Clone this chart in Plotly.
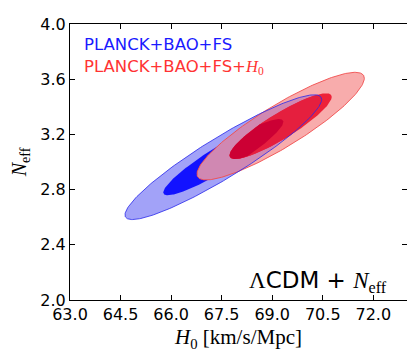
import numpy as np
import plotly.graph_objects as go

# ---- data ----
datasets = ["PLANCK+BAO+FS", "PLANCK+BAO+FS+H0"]
center_h0 = [67.55, 69.25]
center_neff = [3.035, 3.26]
sigma_h0 = [1.175, 1.00]
sigma_neff = [0.182, 0.157]
corr = [0.925, 0.89]
dchi2_levels = [2.30, 6.17]  # 68% and 95% for 2 parameters

x_ticks = [63.0, 64.5, 66.0, 67.5, 69.0, 70.5, 72.0]
y_ticks = [2.0, 2.4, 2.8, 3.2, 3.6, 4.0]
x_range = [63.0, 73.0]
y_range = [2.0, 4.0]


def ellipse(i, k, n=240):
    t = np.linspace(0, 2 * np.pi, n, endpoint=False)
    sx, sy, r = sigma_h0[i], sigma_neff[i], corr[i]
    x = center_h0[i] + np.sqrt(k) * sx * np.cos(t)
    y = center_neff[i] + np.sqrt(k) * sy * (r * np.cos(t) + np.sqrt(1 - r * r) * np.sin(t))
    return list(zip(x, y))


def clip(subject, clipper):
    def inside(p, a, b):
        return (b[0] - a[0]) * (p[1] - a[1]) - (b[1] - a[1]) * (p[0] - a[0]) >= 0

    def inter(s, e, a, b):
        x1, y1 = s; x2, y2 = e; x3, y3 = a; x4, y4 = b
        den = (x1 - x2) * (y3 - y4) - (y1 - y2) * (x3 - x4)
        px = ((x1 * y2 - y1 * x2) * (x3 - x4) - (x1 - x2) * (x3 * y4 - y3 * x4)) / den
        py = ((x1 * y2 - y1 * x2) * (y3 - y4) - (y1 - y2) * (x3 * y4 - y3 * x4)) / den
        return (px, py)

    out = list(subject)
    for j in range(len(clipper)):
        a, b = clipper[j - 1], clipper[j]
        inp, out = out, []
        if not inp:
            break
        s = inp[-1]
        for e in inp:
            if inside(e, a, b):
                if not inside(s, a, b):
                    out.append(inter(s, e, a, b))
                out.append(e)
            elif inside(s, a, b):
                out.append(inter(s, e, a, b))
            s = e
    return out


b_in, b_out = ellipse(0, dchi2_levels[0]), ellipse(0, dchi2_levels[1])
r_in, r_out = ellipse(1, dchi2_levels[0]), ellipse(1, dchi2_levels[1])

fig = go.Figure()


def poly(pts, fill, line=None, width=0):
    if not pts:
        return
    xs = [p[0] for p in pts] + [pts[0][0]]
    ys = [p[1] for p in pts] + [pts[0][1]]
    fig.add_trace(go.Scatter(x=xs, y=ys, mode="lines", fill="toself" if fill else "none",
                             fillcolor=fill, line=dict(color=line or "rgba(0,0,0,0)", width=width),
                             hoverinfo="skip", showlegend=False))


poly(b_out, "#a2a2f8")
poly(b_in, "#1212ff")
poly(r_out, "#f8acac")
poly(clip(r_out, b_out), "#d088b2")
poly(r_in, "#ee2238")
poly(clip(r_in, b_out), "#e51f3e")
poly(clip(r_in, b_in), "#cc0034")
# outlines
poly(r_out, None, "rgba(240,70,70,0.85)", 1)
poly(b_out, None, "rgba(40,40,235,0.8)", 1)

sans = "DejaVu Sans"
serif = "Liberation Serif"

fig.add_annotation(x=0.037, y=0.925, xref="paper", yref="paper", xanchor="left", yanchor="middle",
                   text=datasets[0], showarrow=False, font=dict(family=sans, size=16.5, color="#1a1aff"))
fig.add_annotation(x=0.037, y=0.843, xref="paper", yref="paper", xanchor="left", yanchor="middle",
                   text="PLANCK+BAO+FS+<span style='font-family:Liberation Serif'><i>H</i><sub>0</sub></span>",
                   showarrow=False, font=dict(family=sans, size=16.5, color="#ff3333"))
fig.add_annotation(x=0.946, y=0.066, xref="paper", yref="paper", xanchor="right", yanchor="middle",
                   text="<span style='font-family:Liberation Serif'>Λ</span>CDM + "
                        "<span style='font-family:Liberation Serif'><i>N</i><sub>eff</sub></span>",
                   showarrow=False, font=dict(family=sans, size=23, color="black"))

axis_common = dict(showline=True, linecolor="black", linewidth=1, mirror="ticks", ticks="inside",
                   ticklen=5, tickcolor="black", tickwidth=1, showgrid=False, zeroline=False,
                   ticklabeloverflow="allow",
                   tickfont=dict(family=sans, size=16, color="black"))

fig.update_xaxes(range=x_range, tickvals=x_ticks, ticktext=[f"{v:.1f}" for v in x_ticks],
                 title=dict(text="<i>H</i><sub>0</sub> [km/s/Mpc]",
                            font=dict(family=serif, size=21, color="black"), standoff=6),
                 **axis_common)
fig.update_yaxes(range=y_range, tickvals=y_ticks, ticktext=[f"{v:.1f}" for v in y_ticks],
                 title=dict(text="<i>N</i><sub>eff</sub>",
                            font=dict(family=serif, size=20, color="black"), standoff=11),
                 **axis_common)

# the page body adds an 8 px offset, so the figure is sized/margined to land the plot at the reference spot
fig.update_layout(width=407, height=350, margin=dict(l=54, r=8, t=7, b=58),
                  plot_bgcolor="white", paper_bgcolor="white", showlegend=False)

fig.write_html("out.html")
